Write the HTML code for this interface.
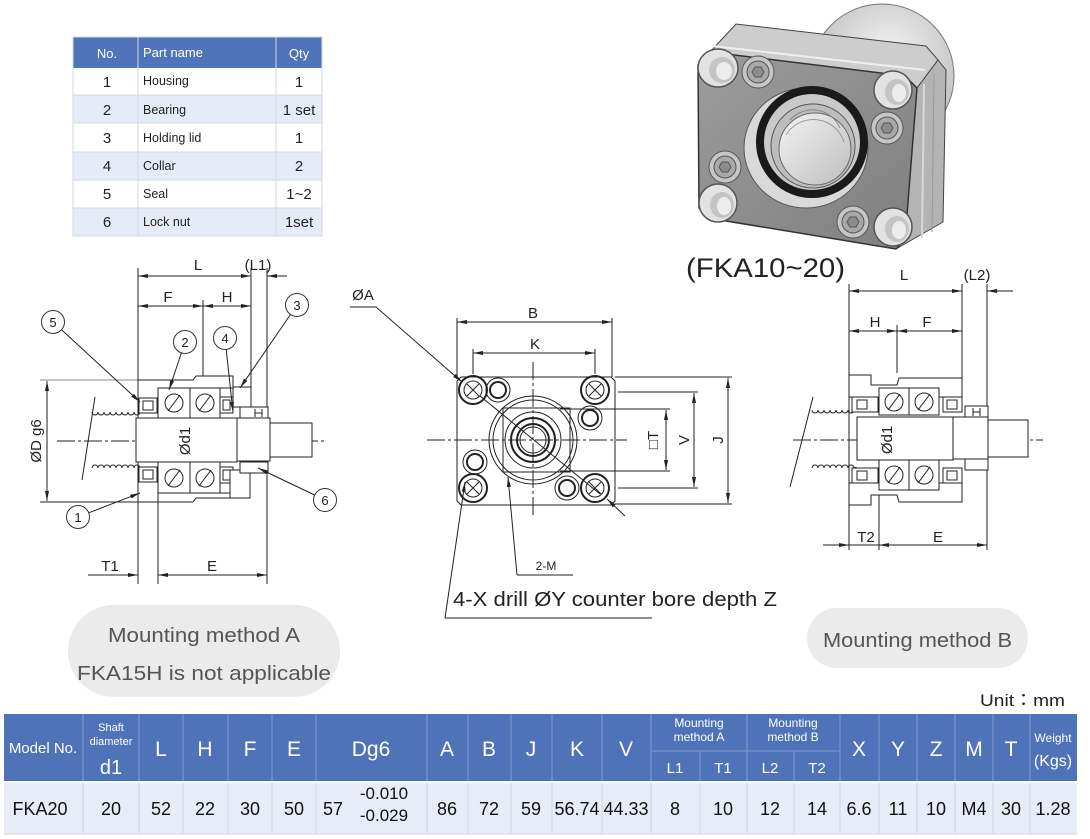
<!DOCTYPE html>
<html><head><meta charset="utf-8"><style>
html,body{margin:0;padding:0;background:#fff;}
svg{display:block;font-family:"Liberation Sans","Noto Sans CJK JP",sans-serif;}
</style></head><body>
<svg width="1090" height="839" viewBox="0 0 1090 839" xmlns="http://www.w3.org/2000/svg">
<defs>
<marker id="a" viewBox="0 0 10 6" refX="10" refY="3" markerWidth="10" markerHeight="6" markerUnits="userSpaceOnUse" orient="auto-start-reverse"><path d="M0,1 L10,3 L0,5z" fill="#222"/></marker>
<radialGradient id="cyl" cx="0.55" cy="0.35" r="0.75"><stop offset="0" stop-color="#f3f3f3"/><stop offset="1" stop-color="#b0b0b0"/></radialGradient>
<linearGradient id="front" x1="0" y1="0" x2="1" y2="1"><stop offset="0" stop-color="#9c9c9c"/><stop offset="1" stop-color="#7f7f7f"/></linearGradient>
<linearGradient id="bore" x1="0" y1="0" x2="1" y2="1"><stop offset="0" stop-color="#f4f4f4"/><stop offset="1" stop-color="#bdbdbd"/></linearGradient>
</defs>
<rect width="1090" height="839" fill="#fff"/>

<!-- ============ PARTS TABLE ============ -->
<g>
<rect x="73" y="37" width="249" height="31" fill="#4f74b9"/>
<rect x="73" y="68" width="249" height="27" fill="#fff"/>
<rect x="73" y="95" width="249" height="28" fill="#e6ecf7"/>
<rect x="73" y="123" width="249" height="29" fill="#fff"/>
<rect x="73" y="152" width="249" height="28" fill="#e6ecf7"/>
<rect x="73" y="180" width="249" height="28" fill="#fff"/>
<rect x="73" y="208" width="249" height="28" fill="#e6ecf7"/>
<g stroke="#d3d9e3" stroke-width="1">
<line x1="138" y1="37" x2="138" y2="236"/><line x1="276" y1="37" x2="276" y2="236"/>
<line x1="73" y1="95" x2="322" y2="95"/><line x1="73" y1="123" x2="322" y2="123"/>
<line x1="73" y1="152" x2="322" y2="152"/><line x1="73" y1="180" x2="322" y2="180"/>
<line x1="73" y1="208" x2="322" y2="208"/>
<rect x="73" y="37" width="249" height="199" fill="none"/>
</g>
<g fill="#fff" font-size="13">
<text x="107" y="58" text-anchor="middle">No.</text>
<text x="143" y="57">Part name</text>
<text x="299" y="58" text-anchor="middle">Qty</text>
</g>
<g fill="#222" font-size="15" text-anchor="middle">
<text x="107" y="87">1</text><text x="107" y="115">2</text><text x="107" y="143">3</text>
<text x="107" y="171">4</text><text x="107" y="199">5</text><text x="107" y="227">6</text>
<text x="299" y="87">1</text><text x="299" y="115">1 set</text><text x="299" y="143">1</text>
<text x="299" y="171">2</text><text x="299" y="199">1~2</text><text x="299" y="227">1set</text>
</g>
<g fill="#222" font-size="12.5">
<text x="143" y="85">Housing</text><text x="143" y="114">Bearing</text><text x="143" y="142">Holding lid</text>
<text x="143" y="170">Collar</text><text x="143" y="198">Seal</text><text x="143" y="226">Lock nut</text>
</g>
</g>

<!-- ============ 3D PRODUCT ============ -->
<g>
<circle cx="882" cy="76" r="72" fill="url(#cyl)" stroke="#777"/>
<polygon points="710,52 736,24 926,46 938,60 917,88 905,76" fill="#cdcdcd" stroke="#444"/>
<line x1="712" y1="46" x2="925" y2="70" stroke="#eee" stroke-width="2"/>
<polygon points="917,88 938,60 946,70 943,222 896,249 905,240" fill="#b4b4b4" stroke="#444"/>
<line x1="924" y1="84" x2="922" y2="238" stroke="#d8d8d8" stroke-width="2"/>
<line x1="934" y1="74" x2="932" y2="232" stroke="#9a9a9a" stroke-width="1"/>
<polygon points="698,65 710,52 905,76 917,88 905,240 896,249 708,218 699,208" fill="url(#front)" stroke="#333" stroke-width="1.5"/>
<!-- center bore -->
<ellipse cx="806" cy="148" rx="62" ry="60" fill="#d9d9d9" stroke="#555"/>
<ellipse cx="812" cy="142" rx="52" ry="52" fill="#c9c9c9" stroke="#1a1a1a" stroke-width="8"/>
<ellipse cx="813" cy="146" rx="42" ry="42" fill="#bdbdbd" stroke="#555"/>
<ellipse cx="815" cy="149" rx="36" ry="36" fill="url(#bore)" stroke="#666"/>
<path d="M790,120 A30,30 0 0 1 840,128" fill="none" stroke="#888"/>
<path d="M786,135 A32,32 0 0 1 844,142" fill="none" stroke="#999"/>
<!-- counterbores -->
<g stroke="#555" stroke-width="1.5">
<ellipse cx="718" cy="68" rx="20" ry="19" fill="#e2e2e2"/><ellipse cx="722" cy="70" rx="13" ry="13" fill="#c4c4c4" stroke="none"/><ellipse cx="724" cy="71" rx="8" ry="9" fill="#ececec" stroke="none"/>
<ellipse cx="893" cy="90" rx="19" ry="19" fill="#e2e2e2"/><ellipse cx="897" cy="92" rx="12" ry="13" fill="#c4c4c4" stroke="none"/><ellipse cx="899" cy="93" rx="7" ry="9" fill="#ececec" stroke="none"/>
<ellipse cx="718" cy="203" rx="19" ry="19" fill="#e2e2e2"/><ellipse cx="722" cy="205" rx="12" ry="13" fill="#c4c4c4" stroke="none"/><ellipse cx="724" cy="206" rx="7" ry="9" fill="#ececec" stroke="none"/>
<ellipse cx="893" cy="227" rx="19" ry="19" fill="#e2e2e2"/><ellipse cx="897" cy="229" rx="12" ry="13" fill="#c4c4c4" stroke="none"/><ellipse cx="899" cy="230" rx="7" ry="9" fill="#ececec" stroke="none"/>
</g>
<!-- bolts -->
<g stroke="#555">
<circle cx="758" cy="72" r="16" fill="#c6c6c6"/><circle cx="758" cy="72" r="11" fill="#a9a9a9"/><polygon points="764,72 761,77 755,77 752,72 755,67 761,67" fill="#8c8c8c"/>
<circle cx="887" cy="128" r="16" fill="#c6c6c6"/><circle cx="887" cy="128" r="11" fill="#a9a9a9"/><polygon points="893,128 890,133 884,133 881,128 884,123 890,123" fill="#8c8c8c"/>
<circle cx="725" cy="167" r="16" fill="#c6c6c6"/><circle cx="725" cy="167" r="11" fill="#a9a9a9"/><polygon points="731,167 728,172 722,172 719,167 722,162 728,162" fill="#8c8c8c"/>
<circle cx="853" cy="222" r="16" fill="#c6c6c6"/><circle cx="853" cy="222" r="11" fill="#a9a9a9"/><polygon points="859,222 856,227 850,227 847,222 850,217 856,217" fill="#8c8c8c"/>
</g>
<text x="686" y="277" font-size="27" fill="#222" textLength="159" lengthAdjust="spacingAndGlyphs">(FKA10~20)</text>
</g>

<!-- ============ LEFT DRAWING (Method A) ============ -->
<g stroke="#222" stroke-width="1" fill="none">
<line x1="138" y1="268" x2="138" y2="584"/>
<line x1="251" y1="268" x2="251" y2="407"/>
<line x1="267" y1="268" x2="267" y2="584"/>
<line x1="158" y1="493" x2="158" y2="584"/>
<line x1="203" y1="300" x2="203" y2="376"/>
<line x1="40" y1="380" x2="193" y2="380" stroke="#888"/>
<line x1="40" y1="502" x2="138" y2="502"/>
<line x1="138" y1="276" x2="251" y2="276" marker-start="url(#a)" marker-end="url(#a)"/>
<line x1="287" y1="276" x2="267" y2="276" marker-end="url(#a)"/>
<line x1="138" y1="306" x2="203" y2="306" marker-start="url(#a)" marker-end="url(#a)"/>
<line x1="203" y1="306" x2="251" y2="306" marker-start="url(#a)" marker-end="url(#a)"/>
<line x1="47" y1="381" x2="47" y2="501" marker-start="url(#a)" marker-end="url(#a)"/>
<line x1="195" y1="419" x2="195" y2="461" marker-start="url(#a)" marker-end="url(#a)"/>
<line x1="88" y1="575" x2="138" y2="575" marker-end="url(#a)"/>
<line x1="158" y1="575" x2="267" y2="575" marker-start="url(#a)" marker-end="url(#a)"/>
<line x1="57" y1="441" x2="327" y2="441" stroke-dasharray="18 3 3 3"/>
<!-- thread -->
<path d="M92,412 a3,3 0 0 0 6,0 a3,3 0 0 0 6,0 a3,3 0 0 0 6,0 a3,3 0 0 0 6,0 a3,3 0 0 0 6,0 a3,3 0 0 0 6,0 a3,3 0 0 0 6,0 a3,3 0 0 0 6,0"/>
<path d="M92,468 a3,3 0 0 1 6,0 a3,3 0 0 1 6,0 a3,3 0 0 1 6,0 a3,3 0 0 1 6,0 a3,3 0 0 1 6,0 a3,3 0 0 1 6,0 a3,3 0 0 1 6,0 a3,3 0 0 1 6,0"/>
<line x1="95" y1="397" x2="82" y2="480"/>
<!-- shaft -->
<rect x="136" y="418" width="101" height="44" fill="#fff"/>
<rect x="237" y="418" width="33" height="43" fill="#fff"/>
<rect x="270" y="423" width="42" height="34" fill="#fff"/>
<!-- upper half -->
<polygon points="138,380 193,380 196,376 233,376 233,388 158,388 158,398 138,398" fill="#fff"/>
<rect x="233" y="387" width="18" height="20" fill="#fff"/>
<rect x="139" y="398" width="18" height="15" fill="#fff"/><rect x="143" y="401" width="10" height="9"/>
<rect x="158" y="388" width="62" height="30" fill="#fff"/><line x1="190" y1="388" x2="190" y2="418"/>
<circle cx="174" cy="403" r="9"/><line x1="168" y1="411" x2="180" y2="395"/>
<circle cx="205" cy="403" r="9"/><line x1="199" y1="411" x2="211" y2="395"/>
<rect x="220" y="397" width="13" height="16" fill="#fff"/><rect x="223" y="400" width="7" height="10"/>
<rect x="240" y="407" width="28" height="11" fill="#fff"/>
<path d="M255,409 v8 M262,409 v8 M255,413 h7"/>
<!-- lower half -->
<rect x="138" y="482" width="20" height="20" fill="#fff"/>
<rect x="139" y="467" width="18" height="15" fill="#fff"/><rect x="143" y="470" width="10" height="9"/>
<rect x="158" y="462" width="62" height="31" fill="#fff"/><line x1="190" y1="462" x2="190" y2="493"/>
<circle cx="174" cy="478" r="9"/><line x1="168" y1="486" x2="180" y2="470"/>
<circle cx="205" cy="478" r="9"/><line x1="199" y1="486" x2="211" y2="470"/>
<rect x="220" y="467" width="13" height="16" fill="#fff"/><rect x="223" y="470" width="7" height="10"/>
<polygon points="158,493 230,493 230,498 196,498 193,502 158,502" fill="#fff"/>
<polygon points="230,470 250,470 250,498 230,498" fill="#fff"/>
<rect x="240" y="462" width="28" height="11" fill="#fff"/>
<!-- leaders -->
<line x1="61.5" y1="329.8" x2="140" y2="402" marker-end="url(#a)"/>
<line x1="181.4" y1="352.9" x2="169" y2="390" marker-end="url(#a)"/>
<line x1="226.2" y1="349.4" x2="233" y2="412" marker-end="url(#a)"/>
<line x1="290.5" y1="314.5" x2="240" y2="388" marker-end="url(#a)"/>
<line x1="88.7" y1="512.8" x2="140" y2="493" marker-end="url(#a)"/>
<line x1="314.6" y1="495" x2="258" y2="468" marker-end="url(#a)"/>
<g fill="#fff" stroke="#333">
<circle cx="53" cy="322" r="11.5"/><circle cx="185" cy="342" r="11.5"/><circle cx="225" cy="338" r="11.5"/>
<circle cx="297" cy="305" r="11.5"/><circle cx="78" cy="517" r="11.5"/><circle cx="325" cy="500" r="11.5"/>
</g>
</g>
<g fill="#222" font-size="13" text-anchor="middle">
<text x="53" y="327">5</text><text x="185" y="347">2</text><text x="225" y="343">4</text>
<text x="297" y="310">3</text><text x="78" y="522">1</text><text x="325" y="505">6</text>
</g>
<g fill="#222" font-size="15" text-anchor="middle">
<text x="198" y="270">L</text><text x="258" y="270">(L1)</text>
<text x="168" y="302">F</text><text x="227" y="302">H</text>
<text x="110" y="571">T1</text><text x="212" y="571">E</text>
<text transform="translate(41,441) rotate(-90)">ØD g6</text>
<text transform="translate(190,441) rotate(-90)">Ød1</text>
</g>

<!-- ============ CENTER DRAWING ============ -->
<g stroke="#222" stroke-width="1" fill="none">
<polygon points="461,377 611,377 615,381 615,501 611,505 461,505 457,501 457,381" fill="#fff"/>
<line x1="457" y1="318" x2="457" y2="377"/><line x1="612" y1="318" x2="612" y2="377"/>
<line x1="473" y1="349" x2="473" y2="374"/><line x1="595" y1="349" x2="595" y2="374"/>
<line x1="457" y1="322" x2="612" y2="322" marker-start="url(#a)" marker-end="url(#a)"/>
<line x1="473" y1="353" x2="595" y2="353" marker-start="url(#a)" marker-end="url(#a)"/>
<line x1="533" y1="362" x2="533" y2="515" stroke-dasharray="18 3 3 3"/>
<line x1="427" y1="440" x2="627" y2="440" stroke-dasharray="18 3 3 3"/>
<line x1="615" y1="377" x2="732" y2="377"/><line x1="618" y1="392" x2="698" y2="392"/>
<line x1="560" y1="409" x2="670" y2="409"/><line x1="560" y1="471" x2="670" y2="471"/>
<line x1="618" y1="488" x2="698" y2="488"/><line x1="615" y1="504" x2="732" y2="504"/>
<line x1="728" y1="378" x2="728" y2="503" marker-start="url(#a)" marker-end="url(#a)"/>
<line x1="694" y1="393" x2="694" y2="487" marker-start="url(#a)" marker-end="url(#a)"/>
<line x1="666" y1="410" x2="666" y2="470" marker-start="url(#a)" marker-end="url(#a)"/>
<!-- center rings -->
<circle cx="533" cy="440" r="44"/><circle cx="533" cy="440" r="40"/>
<rect x="503" y="408" width="67" height="64"/>
<circle cx="533" cy="440" r="28"/>
<circle cx="533" cy="440" r="22" stroke-width="2"/>
<circle cx="533" cy="440" r="16" stroke-width="2"/>
<circle cx="533" cy="440" r="13"/>
<!-- corner holes -->
<g>
<circle cx="473" cy="390" r="14" stroke-width="2"/><circle cx="473" cy="390" r="9"/><path d="M467,384 l12,12 M479,384 l-12,12"/>
<circle cx="595" cy="390" r="14" stroke-width="2"/><circle cx="595" cy="390" r="9"/><path d="M589,384 l12,12 M601,384 l-12,12"/>
<circle cx="473" cy="488" r="14" stroke-width="2"/><circle cx="473" cy="488" r="9"/><path d="M467,482 l12,12 M479,482 l-12,12"/>
<circle cx="595" cy="488" r="14" stroke-width="2"/><circle cx="595" cy="488" r="9"/><path d="M589,482 l12,12 M601,482 l-12,12"/>
</g>
<g>
<circle cx="498" cy="390" r="12"/><circle cx="498" cy="390" r="8" stroke-width="2"/>
<circle cx="590" cy="418" r="12"/><circle cx="590" cy="418" r="8" stroke-width="2"/>
<circle cx="475" cy="462" r="12"/><circle cx="475" cy="462" r="8" stroke-width="2"/>
<circle cx="567" cy="488" r="12"/><circle cx="567" cy="488" r="8" stroke-width="2"/>
</g>
<!-- leaders -->
<line x1="350" y1="307" x2="376" y2="307"/>
<line x1="376" y1="307" x2="462" y2="382" marker-end="url(#a)"/>
<line x1="480" y1="396" x2="600" y2="494"/>
<line x1="625" y1="516" x2="607" y2="499" marker-end="url(#a)"/>
<line x1="445" y1="618" x2="465" y2="482" marker-end="url(#a)"/>
<line x1="445" y1="618" x2="652" y2="618"/>
<line x1="517" y1="575" x2="508" y2="477" marker-end="url(#a)"/>
<line x1="517" y1="575" x2="573" y2="575"/>
</g>
<g fill="#222" font-size="15" text-anchor="middle">
<text x="363" y="300">ØA</text>
<text x="533" y="318">B</text>
<text x="535" y="349">K</text>
<text transform="translate(658,440) rotate(-90)">□T</text>
<text transform="translate(689,440) rotate(-90)">V</text>
<text transform="translate(723,440) rotate(-90)">J</text>
<text x="546" y="570" font-size="12">2-M</text>
</g>
<text x="453" y="606" font-size="20" fill="#222" textLength="324" lengthAdjust="spacingAndGlyphs">4-X drill ØY counter bore depth Z</text>

<!-- ============ RIGHT DRAWING (Method B) ============ -->
<g stroke="#222" stroke-width="1" fill="none">
<line x1="849" y1="284" x2="849" y2="550"/>
<line x1="962" y1="284" x2="962" y2="378"/>
<line x1="987" y1="284" x2="987" y2="550"/>
<line x1="897" y1="325" x2="897" y2="373"/>
<line x1="879" y1="490" x2="879" y2="550"/>
<line x1="849" y1="291" x2="962" y2="291" marker-start="url(#a)" marker-end="url(#a)"/>
<line x1="1013" y1="291" x2="987" y2="291" marker-end="url(#a)"/>
<line x1="849" y1="331" x2="897" y2="331" marker-start="url(#a)" marker-end="url(#a)"/>
<line x1="897" y1="331" x2="962" y2="331" marker-start="url(#a)" marker-end="url(#a)"/>
<line x1="823" y1="545" x2="849" y2="545" marker-end="url(#a)"/>
<line x1="849" y1="545" x2="879" y2="545"/>
<line x1="879" y1="545" x2="987" y2="545" marker-start="url(#a)" marker-end="url(#a)"/>
<line x1="897" y1="419" x2="897" y2="460" marker-start="url(#a)" marker-end="url(#a)"/>
<line x1="793" y1="440" x2="1043" y2="440" stroke-dasharray="18 3 3 3"/>
<path d="M812,410 a3,3 0 0 0 6,0 a3,3 0 0 0 6,0 a3,3 0 0 0 6,0 a3,3 0 0 0 6,0 a3,3 0 0 0 6,0 a3,3 0 0 0 6,0 a3,3 0 0 0 6,0 a3,3 0 0 0 3,0"/>
<path d="M812,468 a3,3 0 0 1 6,0 a3,3 0 0 1 6,0 a3,3 0 0 1 6,0 a3,3 0 0 1 6,0 a3,3 0 0 1 6,0 a3,3 0 0 1 6,0 a3,3 0 0 1 6,0 a3,3 0 0 1 3,0"/>
<line x1="813" y1="397" x2="790" y2="487"/>
<rect x="857" y="417" width="96" height="43" fill="#fff"/>
<rect x="953" y="417" width="35" height="42" fill="#fff"/>
<rect x="988" y="420" width="40" height="37" fill="#fff"/>
<!-- upper -->
<polygon points="849,375 871,375 871,385 897,385 899,378 962,378 962,397 849,397" fill="#fff"/>
<rect x="852" y="397" width="26" height="15" fill="#fff"/><rect x="857" y="400" width="10" height="9"/>
<rect x="879" y="388" width="60" height="27" fill="#fff"/><line x1="909" y1="388" x2="909" y2="415"/>
<circle cx="894" cy="402" r="9"/><line x1="888" y1="410" x2="900" y2="394"/>
<circle cx="924" cy="402" r="9"/><line x1="918" y1="410" x2="930" y2="394"/>
<rect x="943" y="397" width="19" height="15" fill="#fff"/><rect x="947" y="400" width="10" height="9"/>
<rect x="965" y="406" width="23" height="11" fill="#fff"/>
<path d="M973,408 v8 M980,408 v8 M973,412 h7"/>
<!-- lower -->
<polygon points="849,483 962,483 962,502 899,502 897,495 871,495 871,505 849,505" fill="#fff"/>
<rect x="852" y="468" width="26" height="15" fill="#fff"/><rect x="857" y="471" width="10" height="9"/>
<rect x="879" y="460" width="60" height="30" fill="#fff"/><line x1="909" y1="460" x2="909" y2="490"/>
<circle cx="894" cy="475" r="9"/><line x1="888" y1="483" x2="900" y2="467"/>
<circle cx="924" cy="475" r="9"/><line x1="918" y1="483" x2="930" y2="467"/>
<rect x="943" y="468" width="19" height="15" fill="#fff"/><rect x="947" y="471" width="10" height="9"/>
<rect x="965" y="459" width="23" height="11" fill="#fff"/>
</g>
<g fill="#222" font-size="15" text-anchor="middle">
<text x="904" y="280">L</text><text x="977" y="280">(L2)</text>
<text x="875" y="327">H</text><text x="927" y="327">F</text>
<text x="866" y="542">T2</text><text x="938" y="542">E</text>
<text transform="translate(892,440) rotate(-90)">Ød1</text>
</g>

<!-- ============ PILLS ============ -->
<rect x="68" y="605" width="272" height="92" rx="46" fill="#ebebeb"/>
<text x="108" y="642" font-size="20" fill="#555" textLength="192" lengthAdjust="spacingAndGlyphs">Mounting method A</text>
<text x="77" y="680" font-size="20" fill="#555" textLength="254" lengthAdjust="spacingAndGlyphs">FKA15H is not applicable</text>
<rect x="807" y="608" width="221" height="60" rx="30" fill="#ebebeb"/>
<text x="823" y="647" font-size="20" fill="#555" textLength="189" lengthAdjust="spacingAndGlyphs">Mounting method B</text>

<!-- ============ SPEC TABLE ============ -->
<text x="980" y="706" font-size="17" fill="#222" textLength="85" lengthAdjust="spacingAndGlyphs">Unit：mm</text>
<rect x="4" y="714" width="1073" height="67" fill="#4f73b8"/>
<rect x="4" y="783" width="1073" height="51" fill="#e8ecf6"/>
<g stroke="#7f98cc" stroke-width="1">
<line x1="83" y1="714" x2="83" y2="781"/><line x1="139" y1="714" x2="139" y2="781"/>
<line x1="183" y1="714" x2="183" y2="781"/><line x1="228" y1="714" x2="228" y2="781"/>
<line x1="272" y1="714" x2="272" y2="781"/><line x1="316" y1="714" x2="316" y2="781"/>
<line x1="427" y1="714" x2="427" y2="781"/><line x1="468" y1="714" x2="468" y2="781"/>
<line x1="511" y1="714" x2="511" y2="781"/><line x1="552" y1="714" x2="552" y2="781"/>
<line x1="602" y1="714" x2="602" y2="781"/><line x1="651" y1="714" x2="651" y2="781"/>
<line x1="700" y1="751" x2="700" y2="781"/><line x1="747" y1="714" x2="747" y2="781"/>
<line x1="794" y1="751" x2="794" y2="781"/><line x1="840" y1="714" x2="840" y2="781"/>
<line x1="879" y1="714" x2="879" y2="781"/><line x1="917" y1="714" x2="917" y2="781"/>
<line x1="955" y1="714" x2="955" y2="781"/><line x1="993" y1="714" x2="993" y2="781"/>
<line x1="1030" y1="714" x2="1030" y2="781"/>
<line x1="651" y1="751" x2="840" y2="751"/>
</g>
<g stroke="#cfd5e2" stroke-width="1">
<line x1="83" y1="783" x2="83" y2="834"/><line x1="139" y1="783" x2="139" y2="834"/>
<line x1="183" y1="783" x2="183" y2="834"/><line x1="228" y1="783" x2="228" y2="834"/>
<line x1="272" y1="783" x2="272" y2="834"/><line x1="316" y1="783" x2="316" y2="834"/>
<line x1="427" y1="783" x2="427" y2="834"/><line x1="468" y1="783" x2="468" y2="834"/>
<line x1="511" y1="783" x2="511" y2="834"/><line x1="552" y1="783" x2="552" y2="834"/>
<line x1="602" y1="783" x2="602" y2="834"/><line x1="651" y1="783" x2="651" y2="834"/>
<line x1="700" y1="783" x2="700" y2="834"/><line x1="747" y1="783" x2="747" y2="834"/>
<line x1="794" y1="783" x2="794" y2="834"/><line x1="840" y1="783" x2="840" y2="834"/>
<line x1="879" y1="783" x2="879" y2="834"/><line x1="917" y1="783" x2="917" y2="834"/>
<line x1="955" y1="783" x2="955" y2="834"/><line x1="993" y1="783" x2="993" y2="834"/>
<line x1="1030" y1="783" x2="1030" y2="834"/>
<line x1="4" y1="834" x2="1077" y2="834"/>
</g>
<g fill="#fff" text-anchor="middle">
<text x="43" y="753" font-size="15">Model No.</text>
<text x="111" y="731" font-size="11">Shaft</text>
<text x="111" y="745" font-size="11">diameter</text>
<text x="111" y="774" font-size="20">d1</text>
<g font-size="21">
<text x="161" y="756">L</text><text x="205" y="756">H</text><text x="250" y="756">F</text>
<text x="294" y="756">E</text><text x="371" y="756">Dg6</text><text x="447" y="756">A</text>
<text x="489" y="756">B</text><text x="531" y="756">J</text><text x="577" y="756">K</text>
<text x="626" y="756">V</text><text x="859" y="756">X</text><text x="898" y="756">Y</text>
<text x="936" y="756">Z</text><text x="974" y="756">M</text><text x="1011" y="756">T</text>
</g>
<text x="699" y="727" font-size="12">Mounting</text><text x="699" y="741" font-size="12">method A</text>
<text x="793" y="727" font-size="12">Mounting</text><text x="793" y="741" font-size="12">method B</text>
<g font-size="15">
<text x="675" y="773">L1</text><text x="723" y="773">T1</text><text x="770" y="773">L2</text><text x="817" y="773">T2</text>
</g>
<text x="1053" y="742" font-size="12">Weight</text>
<text x="1053" y="766" font-size="16">(Kgs)</text>
</g>
<g fill="#111" font-size="18" text-anchor="middle">
<text x="40" y="815">FKA20</text><text x="111" y="815">20</text><text x="161" y="815">52</text>
<text x="205" y="815">22</text><text x="250" y="815">30</text><text x="294" y="815">50</text>
<text x="333" y="815">57</text>
<text x="384" y="799" font-size="17">-0.010</text><text x="384" y="821" font-size="17">-0.029</text>
<text x="447" y="815">86</text><text x="489" y="815">72</text><text x="531" y="815">59</text>
<text x="577" y="815">56.74</text><text x="626" y="815">44.33</text><text x="675" y="815">8</text>
<text x="723" y="815">10</text><text x="770" y="815">12</text><text x="817" y="815">14</text>
<text x="859" y="815">6.6</text><text x="898" y="815">11</text><text x="936" y="815">10</text>
<text x="974" y="815">M4</text><text x="1011" y="815">30</text><text x="1053" y="815">1.28</text>
</g>
</svg>
</body></html>
